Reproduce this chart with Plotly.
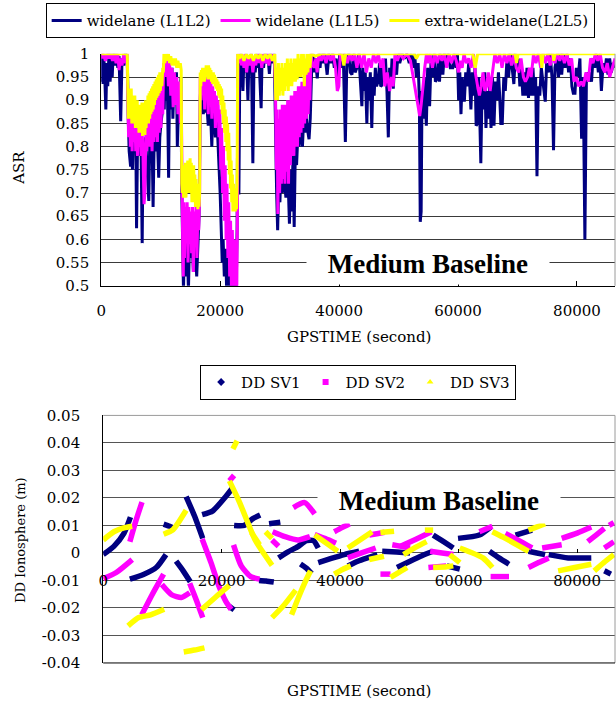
import plotly.graph_objects as go

# ---------------- top chart: ASR time series (GPSTIME s, ASR) ----------------
L1L2 = [(0,0.94),(150,1.0),(300,0.935),(450,0.99),(600,0.95),(778,0.88),(950,0.98),(1100,0.93),(1300,1.0),
 (1500,0.94),(1700,0.99),(1850,0.95),(2000,1.0),(2300,0.975),(2500,1.0),(2800,0.97),(3000,0.995),(3278,0.855),
 (3500,0.99),(3800,0.975),(4100,1.0),(4400,0.98),(4550,0.86),(4700,0.79),(4946,0.757),(5100,0.80),(5250,0.75),
 (5400,0.82),(5600,0.79),(5800,0.84),(5946,0.624),(6100,0.80),(6300,0.78),(6500,0.83),(6700,0.80),(6890,0.592),
 (7050,0.81),(7250,0.78),(7450,0.82),(7650,0.77),(7835,0.715),(8000,0.683),(8150,0.80),(8350,0.79),(8550,0.82),
 (8724,0.67),(8900,0.81),(9100,0.79),(9300,0.83),(9500,0.80),(9668,0.733),(9850,0.82),(10050,0.85),(10250,0.87),
 (10500,0.90),(10600,0.88),(10750,0.98),(10900,0.90),(11100,0.96),(11334,0.733),(11500,0.95),(11700,0.88),
 (11900,0.97),(12050,0.86),(12250,0.95),(12450,0.89),(12650,0.96),(12800,0.80),(13000,0.93),(13200,0.88),
 (13400,0.95),(13550,0.70),(13700,0.58),(13835,0.49),(14000,0.60),(14200,0.52),(14400,0.62),(14550,0.57),
 (14667,0.49),(14850,0.60),(15000,0.56),(15200,0.62),(15350,0.58),(15500,0.53),(15650,0.60),(15850,0.57),
 (16058,0.52),(16250,0.60),(16450,0.65),(16650,0.90),(16800,0.95),(17000,0.90),(17170,0.87),(17300,0.93),
 (17446,0.873),(17600,0.92),(17800,0.88),(18000,0.845),(18200,0.91),(18400,0.87),(18600,0.80),(18800,0.90),
 (19000,0.86),(19200,0.82),(19400,0.88),(19600,0.80),(19800,0.76),(20000,0.70),(20200,0.62),(20350,0.55),
 (20500,0.60),(20700,0.52),(20900,0.58),(21100,0.49),(21300,0.56),(21500,0.49),(21700,0.55),(21900,0.49),
 (22100,0.53),(22300,0.49),(22500,0.56),(22700,0.49),(22850,0.62),(23000,0.99),(23150,0.697),(23300,0.96),
 (23500,1.0),(23650,0.95),(23833,0.92),(24000,0.99),(24200,0.96),(24400,1.0),(24670,0.90),(24850,0.99),
 (25050,0.97),(25250,1.0),(25500,0.764),(25700,0.99),(25900,0.96),(26100,1.0),(26300,0.97),(26500,1.0),
 (26700,0.95),(26890,0.883),(27050,0.99),(27300,0.97),(27500,1.0),(27800,0.98),(28000,1.0),(28281,0.957),
 (28500,1.0),(28800,0.98),(29100,1.0),(29300,0.80),(29500,0.70),(29670,0.62),(29850,0.72),(30050,0.68),
 (30250,0.76),(30450,0.70),(30650,0.78),(30850,0.72),(31060,0.69),(31250,0.76),(31450,0.72),(31650,0.634),
 (31850,0.75),(32050,0.66),(32250,0.78),(32450,0.627),(32650,0.80),(32850,0.76),(33050,0.82),(33250,0.80),
 (33450,0.85),(33650,0.82),(33837,0.80),(34050,0.86),(34250,0.83),(34450,0.87),(34650,0.84),(34948,0.816),
 (35150,0.86),(35400,0.97),(35600,1.0),(35800,0.96),(36000,0.99),(36333,0.947),(36600,1.0),(36800,0.97),
 (37000,1.0),(37300,0.98),(37600,1.0),(38000,0.955),(38300,1.0),(38600,0.98),(38900,1.0),(39200,0.97),
 (39500,0.99),(39800,0.93),(40100,1.0),(40400,0.97),(40700,1.0),(41056,0.81),(41300,0.98),(41600,1.0),
 (41900,0.96),(42170,0.955),(42400,1.0),(42700,0.96),(43000,0.97),(43300,1.0),(43600,0.93),(43833,0.887),
 (44000,0.97),(44200,0.92),(44400,0.96),(44670,0.85),(44850,0.95),(45050,0.90),(45250,0.96),(45500,0.84),
 (45700,0.95),(45900,0.91),(46100,0.97),(46300,0.93),(46611,0.943),(46800,0.98),(47000,0.93),(47170,0.932),
 (47400,0.98),(47600,0.94),(47800,0.99),(48050,0.92),(48280,0.82),(48500,0.97),(48700,0.93),(48900,0.99),
 (49111,0.925),(49350,0.98),(49667,0.955),(49900,1.0),(50200,0.98),(50600,1.0),(51000,0.99),(51400,1.0),
 (51800,0.98),(52100,1.0),(52400,0.97),(52700,1.0),(53000,0.95),(53300,0.98),(53500,0.90),(53650,0.638),
 (53800,0.66),(53950,0.92),(54150,0.86),(54350,0.95),(54670,0.845),(54900,0.97),(55220,0.887),(55450,0.98),
 (55700,0.95),(55950,1.0),(56200,0.94),(56450,0.945),(56700,0.99),(56890,0.94),(57100,1.0),(57450,0.955),
 (57700,1.0),(58000,0.98),(58300,1.0),(58700,0.97),(59110,0.97),(59400,1.0),(59670,0.97),(59900,1.0),
 (60100,0.90),(60300,0.96),(60500,0.87),(60700,0.95),(60900,0.91),(61060,0.897),(61300,0.96),(61500,0.93),
 (61800,0.98),(62170,0.88),(62400,0.96),(62650,0.91),(62850,0.97),(63050,0.845),(63280,0.85),(63500,0.95),
 (63835,0.764),(64050,0.93),(64300,0.88),(64500,0.96),(64700,0.84),(64900,0.92),(65100,0.86),(65300,0.93),
 (65550,0.84),(65800,0.95),(66050,0.845),(66300,0.94),(66550,0.90),(66800,0.96),(67000,0.91),(67200,0.85),
 (67440,0.85),(67700,0.95),(67950,0.92),(68200,0.98),(68500,0.95),(68800,1.0),(69100,0.97),(69390,0.935),
 (69650,1.0),(69900,0.97),(70150,0.99),(70400,0.93),(70650,0.97),(70900,0.91),(71100,0.96),(71350,0.91),
 (71600,0.97),(71850,0.905),(72100,0.96),(72350,0.91),(72600,0.97),(72850,0.91),(73050,0.95),(73280,0.736),
 (73500,0.93),(73750,0.91),(74000,0.97),(74300,0.94),(74670,0.897),(74900,0.98),(75200,0.96),(75500,1.0),
 (75800,0.95),(76060,0.792),(76300,0.97),(76600,0.99),(76900,0.95),(77200,1.0),(77440,0.955),(77700,1.0),
 (78000,0.97),(78300,1.0),(78600,0.96),(78900,0.99),(79150,0.93),(79390,0.915),(79670,0.915),(79900,0.97),
 (80200,0.95),(80500,0.99),(80780,0.817),(81050,0.95),(81335,0.60),(81600,0.96),(81890,0.94),(82150,0.96),
 (82450,0.94),(82700,0.99),(83000,0.97),(83300,1.0),(83600,0.96),(83850,0.99),(84110,0.92),(84400,0.98),
 (84700,0.96),(84950,0.99),(85220,0.955),(85500,0.99),(85780,0.96),(86100,0.98),(86400,0.97)]

L1L5 = [(0,1.0),(200,0.99),(400,1.0),(700,0.985),(1000,1.0),(1300,0.99),(1600,1.0),(1900,0.985),(2200,1.0),
 (2500,0.98),(2800,1.0),(3000,0.965),(3200,0.99),(3500,0.975),(3800,1.0),(4100,0.98),(4350,1.0),(4450,0.90),
 (4600,0.82),(4750,0.90),(4900,0.80),(5050,0.88),(5200,0.79),(5350,0.87),(5500,0.81),(5650,0.89),(5800,0.79),
 (5950,0.86),(6100,0.78),(6250,0.86),(6400,0.80),(6550,0.85),(6700,0.78),(6850,0.84),(7000,0.80),(7200,0.676),
 (7350,0.70),(7500,0.83),(7650,0.79),(7800,0.86),(7950,0.80),(8100,0.87),(8250,0.80),(8400,0.88),(8550,0.79),
 (8700,0.88),(8850,0.81),(9000,0.89),(9150,0.82),(9300,0.90),(9450,0.81),(9600,0.91),(9750,0.83),(9900,0.92),
 (10050,0.84),(10200,0.93),(10350,0.87),(10500,0.98),(10650,0.97),(10800,0.99),(10950,0.95),(11100,0.99),
 (11300,0.93),(11500,0.98),(11700,0.91),(11900,0.97),(12100,0.885),(12300,0.96),(12500,0.89),(12700,0.95),
 (12900,0.87),(13100,0.94),(13300,0.85),(13450,0.92),(13550,0.66),(13700,0.59),(13800,0.52),(13900,0.68),
 (14000,0.56),(14150,0.67),(14300,0.60),(14450,0.68),(14600,0.55),(14750,0.67),(14900,0.59),(15050,0.66),
 (15200,0.57),(15350,0.67),(15500,0.53),(15650,0.66),(15800,0.60),(15950,0.68),(16100,0.56),(16250,0.66),
 (16400,0.62),(16550,0.70),(16650,0.95),(16800,0.90),(16950,0.96),(17100,0.92),(17250,0.96),(17400,0.88),
 (17550,0.95),(17700,0.91),(17850,0.96),(18000,0.87),(18150,0.95),(18300,0.90),(18450,0.94),(18600,0.86),
 (18750,0.93),(18900,0.88),(19050,0.92),(19200,0.84),(19350,0.91),(19500,0.86),(19650,0.90),(19800,0.82),
 (19950,0.88),(20100,0.75),(20250,0.84),(20400,0.70),(20550,0.80),(20700,0.64),(20850,0.76),(21000,0.60),
 (21150,0.72),(21300,0.56),(21450,0.68),(21600,0.52),(21750,0.64),(21900,0.49),(22050,0.62),(22200,0.49),
 (22350,0.60),(22500,0.49),(22650,0.58),(22800,0.49),(22900,0.65),(23000,1.0),(23200,0.98),(23400,1.0),
 (23600,0.975),(23800,0.99),(24000,0.97),(24200,1.0),(24450,0.96),(24700,0.99),(24950,0.975),(25200,1.0),
 (25500,0.96),(25750,0.99),(26000,0.975),(26250,1.0),(26500,0.98),(26750,1.0),(27000,0.97),(27300,1.0),
 (27600,0.98),(27900,1.0),(28200,0.975),(28500,1.0),(28800,0.985),(29100,1.0),(29300,0.93),(29450,0.75),
 (29600,0.88),(29700,0.655),(29850,0.86),(30000,0.70),(30150,0.88),(30300,0.72),(30450,0.89),(30600,0.73),
 (30750,0.89),(30900,0.72),(31050,0.89),(31200,0.746),(31350,0.90),(31500,0.72),(31650,0.90),(31800,0.76),
 (31950,0.91),(32100,0.78),(32250,0.91),(32400,0.78),(32550,0.92),(32700,0.80),(32850,0.92),(33000,0.80),
 (33150,0.93),(33300,0.82),(33450,0.93),(33600,0.83),(33750,0.94),(33900,0.84),(34050,0.94),(34200,0.85),
 (34350,0.95),(34500,0.86),(34650,0.96),(34800,0.87),(34950,0.97),(35100,0.90),(35250,1.0),(35500,0.98),
 (35800,0.97),(36100,0.99),(36300,0.96),(36600,1.0),(37000,0.985),(37400,1.0),(37800,0.98),(38200,1.0),
 (38600,0.985),(39000,1.0),(39400,0.97),(39700,0.92),(39960,0.93),(40200,1.0),(40600,0.985),(41000,1.0),
 (41400,0.98),(41800,1.0),(42200,0.985),(42600,1.0),(43000,0.97),(43400,1.0),(43800,0.97),(44200,1.0),
 (44600,0.96),(45000,0.99),(45400,0.97),(45800,1.0),(46200,0.98),(46600,1.0),(47000,0.97),(47400,0.99),
 (47700,0.93),(48100,0.96),(48500,0.92),(48800,0.95),(49100,0.93),(49400,1.0),(49800,0.985),(50200,1.0),
 (50800,0.99),(51400,1.0),(52000,0.985),(52200,0.97),(52500,0.95),(52800,0.93),(53100,0.90),(53350,0.88),
 (53560,0.866),(53800,0.89),(54000,0.91),(54200,0.94),(54400,0.97),(54700,1.0),(55000,0.98),(55300,1.0),
 (55700,0.97),(56100,1.0),(56500,0.98),(56900,1.0),(57300,0.985),(57700,1.0),(58100,0.97),(58500,1.0),
 (58900,0.98),(59300,1.0),(59700,0.985),(60100,0.96),(60400,0.985),(60700,0.97),(61000,1.0),(61400,0.98),
 (61800,0.99),(62200,0.97),(62600,1.0),(62900,0.96),(63300,0.93),(63600,0.91),(63900,0.93),(64200,0.96),
 (64500,0.92),(64800,0.93),(65100,0.96),(65400,0.92),(65800,0.96),(66200,1.0),(66600,0.98),(67000,1.0),
 (67400,0.97),(67800,1.0),(68200,0.98),(68600,1.0),(69000,0.975),(69400,1.0),(69800,0.97),(70200,0.96),
 (70600,0.99),(71000,0.95),(71330,0.94),(71700,0.95),(72000,0.97),(72300,0.95),(72700,1.0),(73100,0.98),
 (73500,1.0),(73900,0.97),(74300,1.0),(74700,0.98),(75100,1.0),(75500,0.975),(75900,1.0),(76300,0.98),
 (76700,1.0),(77100,0.985),(77500,1.0),(77900,0.98),(78300,1.0),(78700,0.975),(79100,0.99),(79500,0.94),
 (79900,0.95),(80300,0.93),(80700,0.94),(81100,0.93),(81500,0.96),(81900,0.94),(82300,0.99),(82700,0.98),
 (83100,1.0),(83500,0.985),(83900,1.0),(84300,0.97),(84700,0.96),(85100,0.98),(85500,0.95),(85900,0.97),
 (86400,0.99)]

L2L5 = [(0,1.0),(4350,1.0),(4400,0.99),(4450,0.92),(4550,0.86),(4650,0.925),(4750,0.87),(4850,0.92),(4950,0.86),
 (5050,0.925),(5150,0.85),(5250,0.91),(5350,0.86),(5450,0.90),(5550,0.85),(5650,0.91),(5750,0.84),(5850,0.90),
 (5950,0.85),(6050,0.90),(6150,0.84),(6250,0.89),(6350,0.83),(6450,0.89),(6550,0.84),(6650,0.89),(6750,0.83),
 (6850,0.895),(6950,0.823),(7050,0.89),(7150,0.83),(7250,0.895),(7350,0.825),(7450,0.90),(7550,0.84),
 (7650,0.90),(7750,0.85),(7850,0.91),(7950,0.85),(8050,0.915),(8150,0.86),(8250,0.92),(8350,0.87),(8450,0.925),
 (8550,0.875),(8650,0.93),(8750,0.88),(8850,0.935),(8950,0.89),(9050,0.94),(9150,0.90),(9250,0.945),(9350,0.905),
 (9450,0.95),(9550,0.91),(9650,0.955),(9750,0.915),(9850,0.96),(9950,0.92),(10050,0.96),(10200,0.93),
 (10350,0.97),(10450,0.96),(10550,1.0),(10700,0.98),(10900,1.0),(11100,0.985),(11300,1.0),(11500,0.98),
 (11700,0.995),(11900,0.975),(12100,0.99),(12300,0.975),(12500,0.99),(12700,0.97),(12900,0.985),(13100,0.97),
 (13300,0.98),(13450,0.965),(13550,0.72),(13650,0.70),(13750,0.76),(13850,0.69),(13950,0.75),(14050,0.70),
 (14150,0.765),(14250,0.69),(14350,0.76),(14450,0.70),(14550,0.77),(14650,0.71),(14750,0.76),(14850,0.70),
 (14950,0.775),(15050,0.70),(15150,0.765),(15250,0.68),(15350,0.75),(15450,0.69),(15550,0.76),(15650,0.68),
 (15750,0.74),(15850,0.67),(15950,0.73),(16050,0.68),(16150,0.72),(16250,0.665),(16350,0.70),(16450,0.67),
 (16550,0.70),(16650,0.96),(16750,0.93),(16850,0.965),(16950,0.94),(17050,0.97),(17150,0.945),(17250,0.965),
 (17350,0.94),(17450,0.97),(17550,0.95),(17650,0.975),(17750,0.95),(17850,0.97),(17950,0.945),(18050,0.975),
 (18150,0.95),(18250,0.97),(18350,0.945),(18450,0.965),(18550,0.94),(18650,0.96),(18750,0.935),(18850,0.96),
 (18950,0.935),(19050,0.955),(19150,0.93),(19250,0.95),(19350,0.925),(19450,0.945),(19550,0.92),(19650,0.94),
 (19750,0.91),(19850,0.935),(19950,0.905),(20050,0.93),(20150,0.89),(20250,0.925),(20350,0.87),(20450,0.91),
 (20550,0.85),(20650,0.895),(20750,0.83),(20850,0.88),(20950,0.81),(21050,0.865),(21150,0.79),(21250,0.85),
 (21350,0.77),(21450,0.83),(21550,0.74),(21650,0.80),(21750,0.71),(21850,0.77),(21950,0.68),(22050,0.74),
 (22150,0.66),(22250,0.72),(22350,0.665),(22450,0.71),(22550,0.66),(22650,0.70),(22750,0.665),(22850,0.72),
 (22950,1.0),(23200,0.99),(23600,1.0),(24000,0.985),(24400,1.0),(24800,0.99),(25200,1.0),(25600,0.985),
 (26000,1.0),(26400,0.99),(26800,1.0),(27200,0.985),(27600,1.0),(28000,0.99),(28400,1.0),(28800,0.985),
 (29200,1.0),(29350,0.90),(29500,0.97),(29650,0.90),(29800,0.98),(29950,0.91),(30100,0.97),(30250,0.92),
 (30400,0.98),(30550,0.91),(30700,0.97),(30850,0.92),(31000,0.98),(31150,0.93),(31300,0.99),(31450,0.92),
 (31600,0.98),(31750,0.93),(31900,0.99),(32050,0.93),(32200,0.98),(32350,0.94),(32500,0.99),(32650,0.94),
 (32800,0.99),(32950,0.945),(33100,1.0),(33250,0.95),(33400,0.99),(33550,0.95),(33700,1.0),(33850,0.955),
 (34000,1.0),(34150,0.93),(34300,0.99),(34450,0.955),(34600,1.0),(34750,0.96),(34900,1.0),(35100,0.97),
 (35300,1.0),(36000,0.995),(37000,1.0),(40500,1.0),(40800,0.975),(41100,1.0),(52600,1.0),(53000,0.99),
 (53400,1.0),(62500,1.0),(62900,0.97),(63300,1.0),(69600,1.0),(69850,0.98),(70100,1.0),(73900,1.0),
 (74100,0.97),(74300,1.0),(76000,1.0),(76100,0.985),(76300,1.0),(86400,1.0)]

ASR_NAMES = ["widelane (L1L2)", "widelane (L1L5)", "extra-widelane(L2L5)"]
ASR_COLORS = ["#000080", "#FF00FF", "#FFFF00"]

# ---------------- bottom chart: DD ionosphere arcs (GPSTIME s, metres) ----------------
SV1_T = [[0,1800,3500,4600],[4500,6800,9000,10600],[10200,11100,12000],[12300,13500,14700],
         [14000,15400,16800],[16700,18500,20700,21800],[21200,22100],[22100,23800,25200,26500],
         [26300,27500,28800],[28000,29900],[29600,31200,32800,34300,35500,36300],[33300,34300,35200],
         [36300,38500,40700,43200],[41300,43000,44600,46300],[47100,49500,51800],[49600,51800,53800,55700],
         [55700,57400,59100],[58000,60200],[59900,63500,65400],[65200,66800,68500],[69600,72400],
         [71800,73200,74600],[75200,78500,82400],[84600,85700]]
SV1_V = [[-0.0006,0.0024,0.0071,0.013],[-0.0095,-0.0078,-0.0052,-0.0006],[0.0105,0.0098,0.009],
         [-0.003,-0.0065,-0.0105],[0.0205,0.0135,0.0053],[0.0139,0.0153,0.0205,0.0235],[-0.0193,-0.0207],
         [0.0100,0.0100,0.0124,0.0138],[-0.0100,-0.0102,-0.0106],[0.0106,0.0112],
         [-0.0018,0.0004,0.0022,0.0045,0.0045,0.0018],[-0.004,-0.0055,-0.0075],
         [-0.0035,-0.0020,-0.0006,0.0006],[-0.0047,-0.0030,-0.0018,-0.0006],[0.0006,0.0003,0.0],
         [-0.0053,-0.003,-0.001,0.0006],[0.0065,0.0042,0.0018],[-0.0047,-0.0059],[0.0053,0.0065,0.0094],
         [0.0006,-0.0018,-0.0041],[0.0065,0.0083],[0.0006,0.0,-0.0006],[-0.0006,-0.0018,-0.0018],
         [-0.0065,-0.0077]]

SV2_T = [[4500,5450,6550],[0,2200,4900],[6500,8300,10200],[9900,11550,13200,14600],[14600,15700,16800],
         [16700,18200,19600,20700,21600],[21300,22100],[22000,23300,24900,26400],[28600,30700,32900,34900],
         [28500,29600],[32100,34000,35700],[35700,37500,39300],[39000,40300,41600],[41300,43600,46000],
         [44900,46200,47500],[46800,48500],[48800,50300,51800],[50200,52800,55400],[54900,57900],
         [55200,57200,59100],[63500,65700],[65400,68500],[67900,70200,72400],[71800,73500,75200],
         [74100,77400],[77400,80000,82400],[81800,83200,84600],[84600,86200],[85400,86200]]
SV2_V = [[0.0041,0.0112,0.0185],[-0.0094,-0.0071,-0.0024],[-0.0225,-0.015,-0.0077],
         [-0.0115,-0.0152,-0.0162,-0.0145],[-0.011,-0.017,-0.0235],[0.0051,-0.0035,-0.0124,-0.0176,-0.0205],
         [0.0262,0.0282],[0.0029,-0.0047,-0.0086,-0.0095],[0.0077,0.0059,0.0047,0.0059],[0.0047,0.0024],
         [0.0165,0.0183,0.0142],[0.0067,0.0052,0.0035],[0.0077,0.0092,0.0106],[-0.0018,0.0,0.0018],
         [0.0065,0.007,0.0075],[-0.0077,-0.0077],[0.003,0.0024,0.0018],[0.0024,0.005,0.0077],
         [-0.0053,-0.0047],[0.0006,0.0,-0.0006],[0.0077,0.0097],[-0.0086,-0.0086],[0.0071,0.0045,0.0018],
         [-0.0053,-0.0035,-0.0018],[0.0018,0.003],[0.0053,0.0072,0.0094],[0.0041,0.0065,0.0089],
         [0.0018,0.0041],[0.010,0.011]]

SV3_T = [[0,1800,3500,4900],[10200,11800,14000],[4200,6000,8000,10300],[13600,15400,17100],
         [16600,19000,21300],[21900,22600],[21300,23000,25700,28500],[25000,26400],[27400,28500],
         [28500,30500,32500],[31800,33000,34000,35000],[35700,37700,39600],[39000,40400,41800],
         [41300,43400,45400],[46800,48100,49100],[44900,47400],[48500,50000,51300],[50700,52700,54600],
         [54300,55700],[55700,58000,59100],[58500,60200],[60200,64100,65700],[65700,67900,71800],
         [71800,74600],[76800,79600,82400],[82900,84500,86200]]
SV3_V = [[0.0047,0.0077,0.0091,0.0097],[0.0068,0.0085,0.0155],[-0.0265,-0.0235,-0.0225,-0.0205],
         [-0.036,-0.0353,-0.0345],[-0.0206,-0.016,-0.0118],[0.0378,0.0408],[0.0262,0.0185,0.0045,-0.0045],
         [0.0075,0.003],[0.0077,0.0053],[-0.0235,-0.019,-0.0135],[-0.0225,-0.016,-0.011,-0.0065],
         [0.0065,0.0035,0.0006],[-0.0077,-0.006,-0.0047],[0.0018,0.0048,0.0077],[0.0074,0.0077,0.0079],
         [-0.0024,-0.0012],[-0.0089,-0.007,-0.0053],[-0.0006,0.002,0.0041],[0.0083,0.0083],
         [-0.0053,-0.005,-0.0047],[-0.0006,-0.0035],[0.0018,-0.0018,-0.0053],[0.0077,0.0053,0.0006],
         [0.0083,0.0106],[-0.0065,-0.0053,-0.0041],[-0.0065,-0.0035,-0.0006]]

DD_NAMES = ["DD SV1", "DD SV2", "DD SV3"]
DD_SYMBOLS = ["diamond", "square", "triangle-up"]

X_TICKS = [0, 20000, 40000, 60000, 80000]
X_TICKTEXT = ["0", "20000", "40000", "60000", "80000"]
ASR_TICKS = [0.5, 0.55, 0.6, 0.65, 0.7, 0.75, 0.8, 0.85, 0.9, 0.95, 1.0]
ASR_TICKTEXT = ["0.5", "0.55", "0.6", "0.65", "0.7", "0.75", "0.8", "0.85", "0.9", "0.95", "1"]
DD_TICKS = [-0.04, -0.03, -0.02, -0.01, 0, 0.01, 0.02, 0.03, 0.04, 0.05]
DD_TICKTEXT = ["-0.04", "-0.03", "-0.02", "-0.01", "0", "0.01", "0.02", "0.03", "0.04", "0.05"]

# ---------------- figure ----------------
W, H = 616, 709
SERIF = "DejaVu Serif"
TIMES = "Liberation Serif"

def px_x(p):
    return p / W

def px_y(p):
    return 1 - p / H

fig = go.Figure()

for series, name, color in zip([L1L2, L1L5, L2L5], ASR_NAMES, ASR_COLORS):
    tt = [p[0] for p in series]
    vv = [p[1] for p in series]
    fig.add_trace(go.Scatter(x=tt, y=vv, mode="lines", name=name,
                             line=dict(color=color, width=3),
                             xaxis="x", yaxis="y", legend="legend", hoverinfo="skip"))

def joined(seg_t, seg_v):
    xs, ys = [], []
    for a, b in zip(seg_t, seg_v):
        xs += list(a) + [None]
        ys += list(b) + [None]
    return xs, ys

for (st, sv), name, color in zip([(SV1_T, SV1_V), (SV2_T, SV2_V), (SV3_T, SV3_V)],
                                 DD_NAMES, ASR_COLORS):
    xs, ys = joined(st, sv)
    fig.add_trace(go.Scatter(x=xs, y=ys, mode="lines", name=name, showlegend=False,
                             line=dict(color=color, width=5.5, shape="spline", smoothing=0.6),
                             connectgaps=False, xaxis="x2", yaxis="y2", hoverinfo="skip"))
for name, color, sym in zip(DD_NAMES, ASR_COLORS, DD_SYMBOLS):
    fig.add_trace(go.Scatter(x=[None], y=[None], mode="markers", name=name,
                             marker=dict(color=color, symbol=sym, size=6),
                             xaxis="x2", yaxis="y2", legend="legend2"))

top_dom = [px_y(284), px_y(46)]
bot_dom = [px_y(671), px_y(417)]
zero_pos = bot_dom[0] + (0.04 / 0.09) * (bot_dom[1] - bot_dom[0])

tickfont = dict(family=SERIF, size=15, color="black")

fig.update_layout(
    width=W, height=H, autosize=False,
    margin=dict(l=0, r=0, t=0, b=0),
    paper_bgcolor="white", plot_bgcolor="white",
    showlegend=True,
    xaxis=dict(domain=[px_x(97), px_x(615)], range=[0, 86400], anchor="y",
               showline=True, linecolor="black", linewidth=1, mirror=False,
               ticks="inside", ticklen=5, tickcolor="black",
               tickvals=X_TICKS, ticktext=X_TICKTEXT, tickfont=tickfont,
               ticklabelstandoff=11, showgrid=False, zeroline=False),
    yaxis=dict(domain=top_dom, range=[0.5, 1.0], anchor="x",
               showline=True, linecolor="black", linewidth=1,
               ticks="", tickvals=ASR_TICKS, ticktext=ASR_TICKTEXT, tickfont=tickfont,
               ticklabelstandoff=8, showgrid=True, gridcolor="#3a3a3a", gridwidth=1,
               zeroline=False),
    xaxis2=dict(domain=[px_x(99), px_x(615)], range=[0, 86400], anchor="free",
                position=zero_pos, showline=False,
                ticks="inside", ticklen=4, tickcolor="black",
                tickvals=X_TICKS, ticktext=X_TICKTEXT, tickfont=tickfont,
                ticklabelstandoff=17, showgrid=False, zeroline=False),
    yaxis2=dict(domain=bot_dom, range=[-0.04, 0.05], anchor="x2",
                showline=True, linecolor="black", linewidth=1,
                ticks="", tickvals=DD_TICKS, ticktext=DD_TICKTEXT, tickfont=tickfont,
                ticklabelstandoff=19, showgrid=True, gridcolor="#555555", gridwidth=1,
                zeroline=False),
    legend=dict(orientation="h", x=px_x(41), xanchor="left", y=px_y(-6), yanchor="top",
                bordercolor="black", borderwidth=1, bgcolor="white",
                font=dict(family=SERIF, size=15, color="black"),
                itemwidth=30, tracegroupgap=0, traceorder="normal"),
    legend2=dict(orientation="h", x=px_x(356), xanchor="center", y=px_y(365), yanchor="top",
                 bordercolor="black", borderwidth=1, bgcolor="white",
                 font=dict(family=SERIF, size=15, color="black"),
                 itemwidth=30, traceorder="normal"),
)

# plot-area borders (light right / top edges, dark bottom edge on lower chart)
fig.add_shape(type="line", xref="x domain", yref="y domain", x0=1, x1=1, y0=0, y1=1,
              line=dict(color="#9a9a9a", width=1))
fig.add_shape(type="line", xref="x2 domain", yref="y2 domain", x0=1, x1=1, y0=0, y1=1,
              line=dict(color="#9a9a9a", width=1))
fig.add_shape(type="line", xref="x2 domain", yref="y2 domain", x0=0, x1=1, y0=1, y1=1,
              line=dict(color="#9a9a9a", width=1))
fig.add_shape(type="line", xref="x2 domain", yref="y2 domain", x0=0, x1=1, y0=0, y1=0,
              line=dict(color="black", width=1))

title_font = dict(family=SERIF, size=15, color="black")
fig.add_annotation(text="ASR", x=px_x(14), y=px_y(163), xref="paper", yref="paper",
                   xanchor="center", yanchor="middle",
                   showarrow=False, textangle=-90, font=title_font)
fig.add_annotation(text="GPSTIME (second)", x=px_x(357), y=px_y(337), xref="paper", yref="paper",
                   xanchor="center", yanchor="middle", showarrow=False, font=title_font)
fig.add_annotation(text="DD Ionosphere (m)", x=px_x(15), y=px_y(545), xref="paper", yref="paper",
                   xanchor="center", yanchor="middle",
                   showarrow=False, textangle=-90, font=dict(family=SERIF, size=13, color="black"))
fig.add_annotation(text="GPSTIME (second)", x=px_x(357), y=px_y(700), xref="paper", yref="paper",
                   xanchor="center", yanchor="middle", showarrow=False, font=title_font)

mb_font = dict(family=TIMES, size=27, color="black")
fig.add_annotation(text="<b>Medium Baseline</b>", x=px_x(426), y=px_y(262), xref="paper", yref="paper",
                   showarrow=False, font=mb_font, bgcolor="white", width=240, height=38,
                   xanchor="center", yanchor="middle")
fig.add_annotation(text="<b>Medium Baseline</b>", x=px_x(438), y=px_y(505), xref="paper", yref="paper",
                   showarrow=False, font=mb_font, bgcolor="white", width=240, height=42,
                   xanchor="center", yanchor="middle")

fig.write_html("out.html")
